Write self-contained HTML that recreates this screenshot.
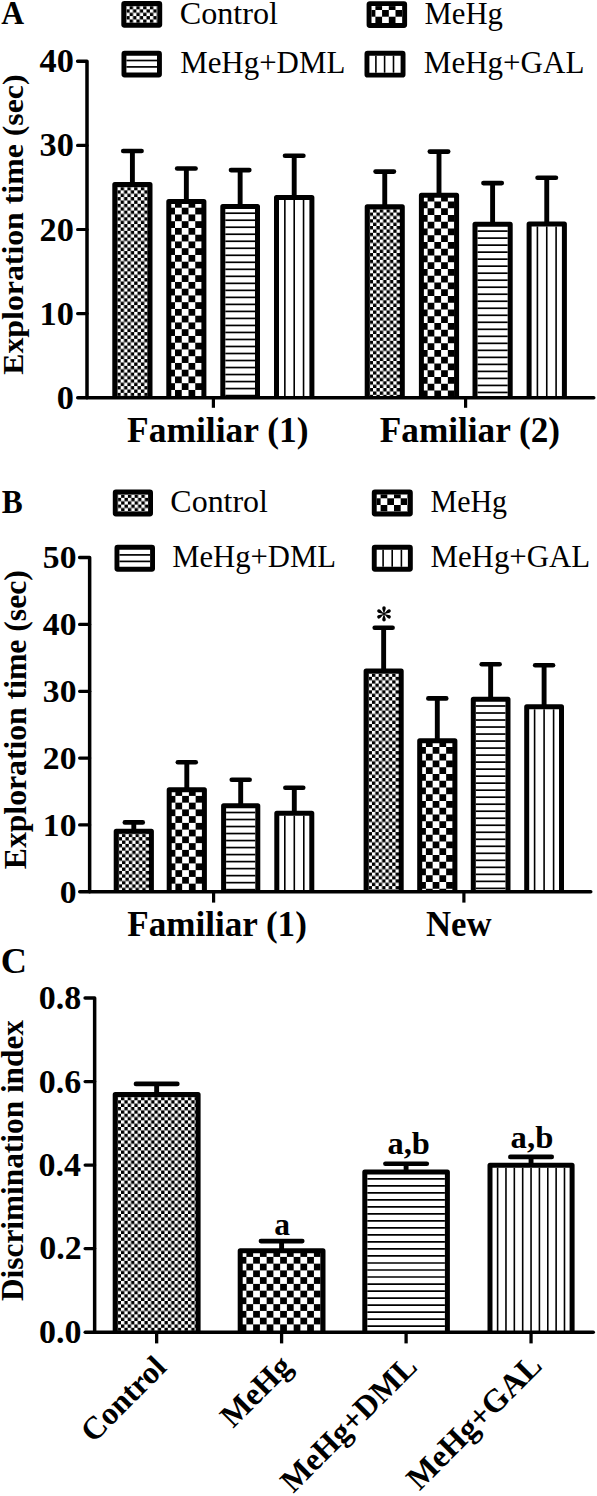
<!DOCTYPE html>
<html><head><meta charset="utf-8"><title>Figure</title>
<style>
html,body{margin:0;padding:0;background:#fff;}
body{width:597px;height:1496px;overflow:hidden;position:relative;}
svg{position:absolute;left:0;top:0;display:block;font-family:"Liberation Serif", serif;}
</style></head><body>
<svg width="597" height="1496" viewBox="0 0 597 1496">
<defs><pattern id="p1" patternUnits="userSpaceOnUse" x="122.90" y="2.60" width="6.750" height="6.750"><rect width="6.750" height="6.750" fill="#fff"/><rect x="3.375" y="0" width="3.375" height="3.375" fill="#000"/><rect x="0" y="3.375" width="3.375" height="3.375" fill="#000"/></pattern>
<pattern id="p2" patternUnits="userSpaceOnUse" x="368.70" y="3.30" width="13.400" height="13.400"><rect width="13.400" height="13.400" fill="#fff"/><rect x="6.700" y="0" width="6.700" height="6.700" fill="#000"/><rect x="0" y="6.700" width="6.700" height="6.700" fill="#000"/></pattern>
<pattern id="p3" patternUnits="userSpaceOnUse" x="113.90" y="183.60" width="6.750" height="6.750"><rect width="6.750" height="6.750" fill="#fff"/><rect x="3.375" y="0" width="3.375" height="3.375" fill="#000"/><rect x="0" y="3.375" width="3.375" height="3.375" fill="#000"/></pattern>
<pattern id="p4" patternUnits="userSpaceOnUse" x="168.25" y="200.95" width="13.500" height="13.500"><rect width="13.500" height="13.500" fill="#fff"/><rect x="6.750" y="0" width="6.750" height="6.750" fill="#000"/><rect x="0" y="6.750" width="6.750" height="6.750" fill="#000"/></pattern>
<pattern id="p5" patternUnits="userSpaceOnUse" x="366.30" y="205.80" width="6.750" height="6.750"><rect width="6.750" height="6.750" fill="#fff"/><rect x="3.375" y="0" width="3.375" height="3.375" fill="#000"/><rect x="0" y="3.375" width="3.375" height="3.375" fill="#000"/></pattern>
<pattern id="p6" patternUnits="userSpaceOnUse" x="420.85" y="194.75" width="13.500" height="13.500"><rect width="13.500" height="13.500" fill="#fff"/><rect x="6.750" y="0" width="6.750" height="6.750" fill="#000"/><rect x="0" y="6.750" width="6.750" height="6.750" fill="#000"/></pattern>
<pattern id="p7" patternUnits="userSpaceOnUse" x="114.40" y="491.10" width="6.750" height="6.750"><rect width="6.750" height="6.750" fill="#fff"/><rect x="3.375" y="0" width="3.375" height="3.375" fill="#000"/><rect x="0" y="3.375" width="3.375" height="3.375" fill="#000"/></pattern>
<pattern id="p8" patternUnits="userSpaceOnUse" x="373.90" y="491.60" width="13.400" height="13.400"><rect width="13.400" height="13.400" fill="#fff"/><rect x="6.700" y="0" width="6.700" height="6.700" fill="#000"/><rect x="0" y="6.700" width="6.700" height="6.700" fill="#000"/></pattern>
<pattern id="p9" patternUnits="userSpaceOnUse" x="115.30" y="830.40" width="6.750" height="6.750"><rect width="6.750" height="6.750" fill="#fff"/><rect x="3.375" y="0" width="3.375" height="3.375" fill="#000"/><rect x="0" y="3.375" width="3.375" height="3.375" fill="#000"/></pattern>
<pattern id="p10" patternUnits="userSpaceOnUse" x="168.65" y="789.15" width="13.500" height="13.500"><rect width="13.500" height="13.500" fill="#fff"/><rect x="6.750" y="0" width="6.750" height="6.750" fill="#000"/><rect x="0" y="6.750" width="6.750" height="6.750" fill="#000"/></pattern>
<pattern id="p11" patternUnits="userSpaceOnUse" x="365.20" y="670.10" width="6.750" height="6.750"><rect width="6.750" height="6.750" fill="#fff"/><rect x="3.375" y="0" width="3.375" height="3.375" fill="#000"/><rect x="0" y="3.375" width="3.375" height="3.375" fill="#000"/></pattern>
<pattern id="p12" patternUnits="userSpaceOnUse" x="419.15" y="740.25" width="13.500" height="13.500"><rect width="13.500" height="13.500" fill="#fff"/><rect x="6.750" y="0" width="6.750" height="6.750" fill="#000"/><rect x="0" y="6.750" width="6.750" height="6.750" fill="#000"/></pattern>
<pattern id="p13" patternUnits="userSpaceOnUse" x="114.30" y="1093.60" width="6.690" height="6.690"><rect width="6.690" height="6.690" fill="#fff"/><rect x="3.345" y="0" width="3.345" height="3.345" fill="#000"/><rect x="0" y="3.345" width="3.345" height="3.345" fill="#000"/></pattern>
<pattern id="p14" patternUnits="userSpaceOnUse" x="239.65" y="1250.15" width="13.500" height="13.500"><rect width="13.500" height="13.500" fill="#fff"/><rect x="6.750" y="0" width="6.750" height="6.750" fill="#000"/><rect x="0" y="6.750" width="6.750" height="6.750" fill="#000"/></pattern></defs>
<rect x="126.20" y="5.90" width="31.10" height="16.90" fill="url(#p1)"/><rect x="123.75" y="3.45" width="36.00" height="21.80" rx="0.7" fill="none" stroke="#000" stroke-width="4.9"/>
<rect x="371.50" y="6.10" width="30.70" height="16.90" fill="url(#p2)"/><rect x="369.05" y="3.65" width="35.60" height="21.80" rx="0.7" fill="none" stroke="#000" stroke-width="4.9"/>
<line x1="126.40" x2="157.00" y1="60.50" y2="60.50" stroke="#000" stroke-width="1.7"/><line x1="126.40" x2="157.00" y1="66.90" y2="66.90" stroke="#000" stroke-width="1.7"/><rect x="123.95" y="53.25" width="35.50" height="21.80" rx="0.7" fill="none" stroke="#000" stroke-width="4.9"/>
<line x1="375.90" x2="375.90" y1="55.70" y2="72.70" stroke="#000" stroke-width="1.6"/><line x1="384.60" x2="384.60" y1="55.70" y2="72.70" stroke="#000" stroke-width="1.6"/><line x1="393.50" x2="393.50" y1="55.70" y2="72.70" stroke="#000" stroke-width="1.6"/><rect x="366.95" y="53.25" width="36.10" height="21.90" rx="0.7" fill="none" stroke="#000" stroke-width="4.9"/>
<rect x="114.80" y="184.50" width="35.20" height="213.20" fill="url(#p3)"/><path d="M114.80,397.70 L114.80,184.50 L150.00,184.50 L150.00,397.70" fill="none" stroke="#000" stroke-width="5.0" stroke-linejoin="round"/><line x1="132.40" y1="184.50" x2="132.40" y2="151.00" stroke="#000" stroke-width="4.9"/><line x1="123.20" y1="151.00" x2="141.60" y2="151.00" stroke="#000" stroke-width="4.6" stroke-linecap="round"/>
<rect x="168.80" y="201.50" width="35.10" height="196.20" fill="url(#p4)"/><path d="M168.80,397.70 L168.80,201.50 L203.90,201.50 L203.90,397.70" fill="none" stroke="#000" stroke-width="5.0" stroke-linejoin="round"/><line x1="186.35" y1="201.50" x2="186.35" y2="168.50" stroke="#000" stroke-width="4.9"/><line x1="177.15" y1="168.50" x2="195.55" y2="168.50" stroke="#000" stroke-width="4.6" stroke-linecap="round"/>
<line x1="225.30" x2="255.00" y1="213.20" y2="213.20" stroke="#000" stroke-width="1.7"/><line x1="225.30" x2="255.00" y1="220.22" y2="220.22" stroke="#000" stroke-width="1.7"/><line x1="225.30" x2="255.00" y1="227.23" y2="227.23" stroke="#000" stroke-width="1.7"/><line x1="225.30" x2="255.00" y1="234.24" y2="234.24" stroke="#000" stroke-width="1.7"/><line x1="225.30" x2="255.00" y1="241.26" y2="241.26" stroke="#000" stroke-width="1.7"/><line x1="225.30" x2="255.00" y1="248.27" y2="248.27" stroke="#000" stroke-width="1.7"/><line x1="225.30" x2="255.00" y1="255.29" y2="255.29" stroke="#000" stroke-width="1.7"/><line x1="225.30" x2="255.00" y1="262.30" y2="262.30" stroke="#000" stroke-width="1.7"/><line x1="225.30" x2="255.00" y1="269.32" y2="269.32" stroke="#000" stroke-width="1.7"/><line x1="225.30" x2="255.00" y1="276.33" y2="276.33" stroke="#000" stroke-width="1.7"/><line x1="225.30" x2="255.00" y1="283.35" y2="283.35" stroke="#000" stroke-width="1.7"/><line x1="225.30" x2="255.00" y1="290.36" y2="290.36" stroke="#000" stroke-width="1.7"/><line x1="225.30" x2="255.00" y1="297.38" y2="297.38" stroke="#000" stroke-width="1.7"/><line x1="225.30" x2="255.00" y1="304.39" y2="304.39" stroke="#000" stroke-width="1.7"/><line x1="225.30" x2="255.00" y1="311.41" y2="311.41" stroke="#000" stroke-width="1.7"/><line x1="225.30" x2="255.00" y1="318.42" y2="318.42" stroke="#000" stroke-width="1.7"/><line x1="225.30" x2="255.00" y1="325.44" y2="325.44" stroke="#000" stroke-width="1.7"/><line x1="225.30" x2="255.00" y1="332.45" y2="332.45" stroke="#000" stroke-width="1.7"/><line x1="225.30" x2="255.00" y1="339.47" y2="339.47" stroke="#000" stroke-width="1.7"/><line x1="225.30" x2="255.00" y1="346.48" y2="346.48" stroke="#000" stroke-width="1.7"/><line x1="225.30" x2="255.00" y1="353.50" y2="353.50" stroke="#000" stroke-width="1.7"/><line x1="225.30" x2="255.00" y1="360.51" y2="360.51" stroke="#000" stroke-width="1.7"/><line x1="225.30" x2="255.00" y1="367.53" y2="367.53" stroke="#000" stroke-width="1.7"/><line x1="225.30" x2="255.00" y1="374.54" y2="374.54" stroke="#000" stroke-width="1.7"/><line x1="225.30" x2="255.00" y1="381.56" y2="381.56" stroke="#000" stroke-width="1.7"/><line x1="225.30" x2="255.00" y1="388.57" y2="388.57" stroke="#000" stroke-width="1.7"/><line x1="225.30" x2="255.00" y1="395.59" y2="395.59" stroke="#000" stroke-width="1.7"/><path d="M222.80,397.70 L222.80,206.40 L257.50,206.40 L257.50,397.70" fill="none" stroke="#000" stroke-width="5.0" stroke-linejoin="round"/><line x1="240.15" y1="206.40" x2="240.15" y2="170.10" stroke="#000" stroke-width="4.9"/><line x1="230.95" y1="170.10" x2="249.35" y2="170.10" stroke="#000" stroke-width="4.6" stroke-linecap="round"/>
<line x1="294.20" x2="294.20" y1="200.00" y2="397.70" stroke="#000" stroke-width="1.6"/><line x1="303.55" x2="303.55" y1="200.00" y2="397.70" stroke="#000" stroke-width="1.6"/><line x1="284.85" x2="284.85" y1="200.00" y2="397.70" stroke="#000" stroke-width="1.6"/><path d="M276.50,397.70 L276.50,197.50 L311.90,197.50 L311.90,397.70" fill="none" stroke="#000" stroke-width="5.0" stroke-linejoin="round"/><line x1="294.20" y1="197.50" x2="294.20" y2="155.80" stroke="#000" stroke-width="4.9"/><line x1="285.00" y1="155.80" x2="303.40" y2="155.80" stroke="#000" stroke-width="4.6" stroke-linecap="round"/>
<rect x="367.20" y="206.70" width="35.10" height="191.00" fill="url(#p5)"/><path d="M367.20,397.70 L367.20,206.70 L402.30,206.70 L402.30,397.70" fill="none" stroke="#000" stroke-width="5.0" stroke-linejoin="round"/><line x1="384.75" y1="206.70" x2="384.75" y2="171.60" stroke="#000" stroke-width="4.9"/><line x1="375.55" y1="171.60" x2="393.95" y2="171.60" stroke="#000" stroke-width="4.6" stroke-linecap="round"/>
<rect x="421.40" y="195.30" width="35.20" height="202.40" fill="url(#p6)"/><path d="M421.40,397.70 L421.40,195.30 L456.60,195.30 L456.60,397.70" fill="none" stroke="#000" stroke-width="5.0" stroke-linejoin="round"/><line x1="439.00" y1="195.30" x2="439.00" y2="151.60" stroke="#000" stroke-width="4.9"/><line x1="429.80" y1="151.60" x2="448.20" y2="151.60" stroke="#000" stroke-width="4.6" stroke-linecap="round"/>
<line x1="477.50" x2="507.70" y1="231.10" y2="231.10" stroke="#000" stroke-width="1.7"/><line x1="477.50" x2="507.70" y1="238.12" y2="238.12" stroke="#000" stroke-width="1.7"/><line x1="477.50" x2="507.70" y1="245.13" y2="245.13" stroke="#000" stroke-width="1.7"/><line x1="477.50" x2="507.70" y1="252.14" y2="252.14" stroke="#000" stroke-width="1.7"/><line x1="477.50" x2="507.70" y1="259.16" y2="259.16" stroke="#000" stroke-width="1.7"/><line x1="477.50" x2="507.70" y1="266.17" y2="266.17" stroke="#000" stroke-width="1.7"/><line x1="477.50" x2="507.70" y1="273.19" y2="273.19" stroke="#000" stroke-width="1.7"/><line x1="477.50" x2="507.70" y1="280.20" y2="280.20" stroke="#000" stroke-width="1.7"/><line x1="477.50" x2="507.70" y1="287.22" y2="287.22" stroke="#000" stroke-width="1.7"/><line x1="477.50" x2="507.70" y1="294.23" y2="294.23" stroke="#000" stroke-width="1.7"/><line x1="477.50" x2="507.70" y1="301.25" y2="301.25" stroke="#000" stroke-width="1.7"/><line x1="477.50" x2="507.70" y1="308.26" y2="308.26" stroke="#000" stroke-width="1.7"/><line x1="477.50" x2="507.70" y1="315.28" y2="315.28" stroke="#000" stroke-width="1.7"/><line x1="477.50" x2="507.70" y1="322.29" y2="322.29" stroke="#000" stroke-width="1.7"/><line x1="477.50" x2="507.70" y1="329.31" y2="329.31" stroke="#000" stroke-width="1.7"/><line x1="477.50" x2="507.70" y1="336.32" y2="336.32" stroke="#000" stroke-width="1.7"/><line x1="477.50" x2="507.70" y1="343.34" y2="343.34" stroke="#000" stroke-width="1.7"/><line x1="477.50" x2="507.70" y1="350.35" y2="350.35" stroke="#000" stroke-width="1.7"/><line x1="477.50" x2="507.70" y1="357.37" y2="357.37" stroke="#000" stroke-width="1.7"/><line x1="477.50" x2="507.70" y1="364.38" y2="364.38" stroke="#000" stroke-width="1.7"/><line x1="477.50" x2="507.70" y1="371.40" y2="371.40" stroke="#000" stroke-width="1.7"/><line x1="477.50" x2="507.70" y1="378.41" y2="378.41" stroke="#000" stroke-width="1.7"/><line x1="477.50" x2="507.70" y1="385.43" y2="385.43" stroke="#000" stroke-width="1.7"/><line x1="477.50" x2="507.70" y1="392.44" y2="392.44" stroke="#000" stroke-width="1.7"/><path d="M475.00,397.70 L475.00,224.30 L510.20,224.30 L510.20,397.70" fill="none" stroke="#000" stroke-width="5.0" stroke-linejoin="round"/><line x1="492.60" y1="224.30" x2="492.60" y2="183.10" stroke="#000" stroke-width="4.9"/><line x1="483.40" y1="183.10" x2="501.80" y2="183.10" stroke="#000" stroke-width="4.6" stroke-linecap="round"/>
<line x1="546.75" x2="546.75" y1="226.40" y2="397.70" stroke="#000" stroke-width="1.6"/><line x1="556.10" x2="556.10" y1="226.40" y2="397.70" stroke="#000" stroke-width="1.6"/><line x1="537.40" x2="537.40" y1="226.40" y2="397.70" stroke="#000" stroke-width="1.6"/><path d="M529.10,397.70 L529.10,223.90 L564.40,223.90 L564.40,397.70" fill="none" stroke="#000" stroke-width="5.0" stroke-linejoin="round"/><line x1="546.75" y1="223.90" x2="546.75" y2="177.80" stroke="#000" stroke-width="4.9"/><line x1="537.55" y1="177.80" x2="555.95" y2="177.80" stroke="#000" stroke-width="4.6" stroke-linecap="round"/>
<path d="M77.60,61.30 L87.00,61.30 L87.00,397.70" fill="none" stroke="#000" stroke-width="3.5" stroke-linejoin="round" stroke-linecap="round"/><line x1="77.60" y1="145.40" x2="87.00" y2="145.40" stroke="#000" stroke-width="3.2" stroke-linecap="round"/><line x1="77.60" y1="229.50" x2="87.00" y2="229.50" stroke="#000" stroke-width="3.2" stroke-linecap="round"/><line x1="77.60" y1="313.60" x2="87.00" y2="313.60" stroke="#000" stroke-width="3.2" stroke-linecap="round"/><line x1="77.75" y1="397.70" x2="593.75" y2="397.70" stroke="#000" stroke-width="3.5" stroke-linecap="round"/><line x1="213.40" y1="397.70" x2="213.40" y2="407.80" stroke="#000" stroke-width="3.2"/><line x1="465.60" y1="397.70" x2="465.60" y2="407.80" stroke="#000" stroke-width="3.2"/>
<rect x="117.70" y="494.40" width="30.40" height="17.10" fill="url(#p7)"/><rect x="115.25" y="491.95" width="35.30" height="22.00" rx="0.7" fill="none" stroke="#000" stroke-width="4.9"/>
<rect x="376.70" y="494.40" width="31.20" height="17.10" fill="url(#p8)"/><rect x="374.25" y="491.95" width="36.10" height="22.00" rx="0.7" fill="none" stroke="#000" stroke-width="4.9"/>
<line x1="119.40" x2="150.10" y1="554.90" y2="554.90" stroke="#000" stroke-width="1.7"/><line x1="119.40" x2="150.10" y1="561.40" y2="561.40" stroke="#000" stroke-width="1.7"/><rect x="116.95" y="547.25" width="35.60" height="22.00" rx="0.7" fill="none" stroke="#000" stroke-width="4.9"/>
<line x1="383.10" x2="383.10" y1="549.70" y2="566.80" stroke="#000" stroke-width="1.6"/><line x1="392.20" x2="392.20" y1="549.70" y2="566.80" stroke="#000" stroke-width="1.6"/><line x1="401.40" x2="401.40" y1="549.70" y2="566.80" stroke="#000" stroke-width="1.6"/><rect x="374.25" y="547.25" width="36.10" height="22.00" rx="0.7" fill="none" stroke="#000" stroke-width="4.9"/>
<rect x="116.20" y="831.30" width="35.20" height="60.50" fill="url(#p9)"/><path d="M116.20,891.80 L116.20,831.30 L151.40,831.30 L151.40,891.80" fill="none" stroke="#000" stroke-width="5.0" stroke-linejoin="round"/><line x1="133.80" y1="831.30" x2="133.80" y2="822.40" stroke="#000" stroke-width="4.9"/><line x1="124.85" y1="822.40" x2="142.75" y2="822.40" stroke="#000" stroke-width="4.6" stroke-linecap="round"/>
<rect x="169.20" y="789.70" width="35.20" height="102.10" fill="url(#p10)"/><path d="M169.20,891.80 L169.20,789.70 L204.40,789.70 L204.40,891.80" fill="none" stroke="#000" stroke-width="5.0" stroke-linejoin="round"/><line x1="186.80" y1="789.70" x2="186.80" y2="762.20" stroke="#000" stroke-width="4.9"/><line x1="177.85" y1="762.20" x2="195.75" y2="762.20" stroke="#000" stroke-width="4.6" stroke-linecap="round"/>
<line x1="226.10" x2="255.30" y1="812.50" y2="812.50" stroke="#000" stroke-width="1.7"/><line x1="226.10" x2="255.30" y1="819.51" y2="819.51" stroke="#000" stroke-width="1.7"/><line x1="226.10" x2="255.30" y1="826.53" y2="826.53" stroke="#000" stroke-width="1.7"/><line x1="226.10" x2="255.30" y1="833.54" y2="833.54" stroke="#000" stroke-width="1.7"/><line x1="226.10" x2="255.30" y1="840.56" y2="840.56" stroke="#000" stroke-width="1.7"/><line x1="226.10" x2="255.30" y1="847.57" y2="847.57" stroke="#000" stroke-width="1.7"/><line x1="226.10" x2="255.30" y1="854.59" y2="854.59" stroke="#000" stroke-width="1.7"/><line x1="226.10" x2="255.30" y1="861.60" y2="861.60" stroke="#000" stroke-width="1.7"/><line x1="226.10" x2="255.30" y1="868.62" y2="868.62" stroke="#000" stroke-width="1.7"/><line x1="226.10" x2="255.30" y1="875.63" y2="875.63" stroke="#000" stroke-width="1.7"/><line x1="226.10" x2="255.30" y1="882.65" y2="882.65" stroke="#000" stroke-width="1.7"/><line x1="226.10" x2="255.30" y1="889.66" y2="889.66" stroke="#000" stroke-width="1.7"/><path d="M223.60,891.80 L223.60,805.70 L257.80,805.70 L257.80,891.80" fill="none" stroke="#000" stroke-width="5.0" stroke-linejoin="round"/><line x1="240.70" y1="805.70" x2="240.70" y2="779.80" stroke="#000" stroke-width="4.9"/><line x1="231.75" y1="779.80" x2="249.65" y2="779.80" stroke="#000" stroke-width="4.6" stroke-linecap="round"/>
<line x1="294.30" x2="294.30" y1="815.70" y2="891.80" stroke="#000" stroke-width="1.6"/><line x1="303.80" x2="303.80" y1="815.70" y2="891.80" stroke="#000" stroke-width="1.6"/><line x1="284.80" x2="284.80" y1="815.70" y2="891.80" stroke="#000" stroke-width="1.6"/><path d="M276.80,891.80 L276.80,813.20 L311.80,813.20 L311.80,891.80" fill="none" stroke="#000" stroke-width="5.0" stroke-linejoin="round"/><line x1="294.30" y1="813.20" x2="294.30" y2="787.80" stroke="#000" stroke-width="4.9"/><line x1="285.35" y1="787.80" x2="303.25" y2="787.80" stroke="#000" stroke-width="4.6" stroke-linecap="round"/>
<rect x="366.10" y="671.00" width="35.10" height="220.80" fill="url(#p11)"/><path d="M366.10,891.80 L366.10,671.00 L401.20,671.00 L401.20,891.80" fill="none" stroke="#000" stroke-width="5.0" stroke-linejoin="round"/><line x1="383.65" y1="671.00" x2="383.65" y2="627.80" stroke="#000" stroke-width="4.9"/><line x1="374.70" y1="627.80" x2="392.60" y2="627.80" stroke="#000" stroke-width="4.6" stroke-linecap="round"/>
<rect x="419.70" y="740.80" width="35.20" height="151.00" fill="url(#p12)"/><path d="M419.70,891.80 L419.70,740.80 L454.90,740.80 L454.90,891.80" fill="none" stroke="#000" stroke-width="5.0" stroke-linejoin="round"/><line x1="437.30" y1="740.80" x2="437.30" y2="698.40" stroke="#000" stroke-width="4.9"/><line x1="428.35" y1="698.40" x2="446.25" y2="698.40" stroke="#000" stroke-width="4.6" stroke-linecap="round"/>
<line x1="475.80" x2="505.50" y1="706.00" y2="706.00" stroke="#000" stroke-width="1.7"/><line x1="475.80" x2="505.50" y1="713.01" y2="713.01" stroke="#000" stroke-width="1.7"/><line x1="475.80" x2="505.50" y1="720.03" y2="720.03" stroke="#000" stroke-width="1.7"/><line x1="475.80" x2="505.50" y1="727.04" y2="727.04" stroke="#000" stroke-width="1.7"/><line x1="475.80" x2="505.50" y1="734.06" y2="734.06" stroke="#000" stroke-width="1.7"/><line x1="475.80" x2="505.50" y1="741.07" y2="741.07" stroke="#000" stroke-width="1.7"/><line x1="475.80" x2="505.50" y1="748.09" y2="748.09" stroke="#000" stroke-width="1.7"/><line x1="475.80" x2="505.50" y1="755.10" y2="755.10" stroke="#000" stroke-width="1.7"/><line x1="475.80" x2="505.50" y1="762.12" y2="762.12" stroke="#000" stroke-width="1.7"/><line x1="475.80" x2="505.50" y1="769.13" y2="769.13" stroke="#000" stroke-width="1.7"/><line x1="475.80" x2="505.50" y1="776.15" y2="776.15" stroke="#000" stroke-width="1.7"/><line x1="475.80" x2="505.50" y1="783.16" y2="783.16" stroke="#000" stroke-width="1.7"/><line x1="475.80" x2="505.50" y1="790.18" y2="790.18" stroke="#000" stroke-width="1.7"/><line x1="475.80" x2="505.50" y1="797.19" y2="797.19" stroke="#000" stroke-width="1.7"/><line x1="475.80" x2="505.50" y1="804.21" y2="804.21" stroke="#000" stroke-width="1.7"/><line x1="475.80" x2="505.50" y1="811.22" y2="811.22" stroke="#000" stroke-width="1.7"/><line x1="475.80" x2="505.50" y1="818.24" y2="818.24" stroke="#000" stroke-width="1.7"/><line x1="475.80" x2="505.50" y1="825.25" y2="825.25" stroke="#000" stroke-width="1.7"/><line x1="475.80" x2="505.50" y1="832.27" y2="832.27" stroke="#000" stroke-width="1.7"/><line x1="475.80" x2="505.50" y1="839.28" y2="839.28" stroke="#000" stroke-width="1.7"/><line x1="475.80" x2="505.50" y1="846.30" y2="846.30" stroke="#000" stroke-width="1.7"/><line x1="475.80" x2="505.50" y1="853.31" y2="853.31" stroke="#000" stroke-width="1.7"/><line x1="475.80" x2="505.50" y1="860.33" y2="860.33" stroke="#000" stroke-width="1.7"/><line x1="475.80" x2="505.50" y1="867.34" y2="867.34" stroke="#000" stroke-width="1.7"/><line x1="475.80" x2="505.50" y1="874.36" y2="874.36" stroke="#000" stroke-width="1.7"/><line x1="475.80" x2="505.50" y1="881.37" y2="881.37" stroke="#000" stroke-width="1.7"/><line x1="475.80" x2="505.50" y1="888.39" y2="888.39" stroke="#000" stroke-width="1.7"/><path d="M473.30,891.80 L473.30,699.20 L508.00,699.20 L508.00,891.80" fill="none" stroke="#000" stroke-width="5.0" stroke-linejoin="round"/><line x1="490.65" y1="699.20" x2="490.65" y2="664.30" stroke="#000" stroke-width="4.9"/><line x1="481.70" y1="664.30" x2="499.60" y2="664.30" stroke="#000" stroke-width="4.6" stroke-linecap="round"/>
<line x1="544.10" x2="544.10" y1="709.30" y2="891.80" stroke="#000" stroke-width="1.6"/><line x1="553.60" x2="553.60" y1="709.30" y2="891.80" stroke="#000" stroke-width="1.6"/><line x1="534.60" x2="534.60" y1="709.30" y2="891.80" stroke="#000" stroke-width="1.6"/><path d="M526.70,891.80 L526.70,706.80 L561.50,706.80 L561.50,891.80" fill="none" stroke="#000" stroke-width="5.0" stroke-linejoin="round"/><line x1="544.10" y1="706.80" x2="544.10" y2="665.20" stroke="#000" stroke-width="4.9"/><line x1="535.15" y1="665.20" x2="553.05" y2="665.20" stroke="#000" stroke-width="4.6" stroke-linecap="round"/>
<path d="M79.60,557.60 L89.65,557.60 L89.65,891.80" fill="none" stroke="#000" stroke-width="3.5" stroke-linejoin="round" stroke-linecap="round"/><line x1="79.60" y1="624.44" x2="89.65" y2="624.44" stroke="#000" stroke-width="3.2" stroke-linecap="round"/><line x1="79.60" y1="691.28" x2="89.65" y2="691.28" stroke="#000" stroke-width="3.2" stroke-linecap="round"/><line x1="79.60" y1="758.12" x2="89.65" y2="758.12" stroke="#000" stroke-width="3.2" stroke-linecap="round"/><line x1="79.60" y1="824.96" x2="89.65" y2="824.96" stroke="#000" stroke-width="3.2" stroke-linecap="round"/><line x1="79.75" y1="891.80" x2="590.75" y2="891.80" stroke="#000" stroke-width="3.5" stroke-linecap="round"/><line x1="213.60" y1="891.80" x2="213.60" y2="902.60" stroke="#000" stroke-width="3.2"/><line x1="463.90" y1="891.80" x2="463.90" y2="902.60" stroke="#000" stroke-width="3.2"/>
<g transform="translate(384.0,613.9)"><path d="M-0.4,-0.7 C-0.7,-2.6 -1.75,-4.2 -1.75,-5.85 A1.75,1.75 0 0 1 1.75,-5.85 C1.75,-4.2 0.7,-2.6 0.4,-0.7 Z" transform="rotate(0)" fill="#000"/><path d="M-0.4,-0.7 C-0.7,-2.6 -1.75,-4.2 -1.75,-5.85 A1.75,1.75 0 0 1 1.75,-5.85 C1.75,-4.2 0.7,-2.6 0.4,-0.7 Z" transform="rotate(60)" fill="#000"/><path d="M-0.4,-0.7 C-0.7,-2.6 -1.75,-4.2 -1.75,-5.85 A1.75,1.75 0 0 1 1.75,-5.85 C1.75,-4.2 0.7,-2.6 0.4,-0.7 Z" transform="rotate(120)" fill="#000"/><path d="M-0.4,-0.7 C-0.7,-2.6 -1.75,-4.2 -1.75,-5.85 A1.75,1.75 0 0 1 1.75,-5.85 C1.75,-4.2 0.7,-2.6 0.4,-0.7 Z" transform="rotate(180)" fill="#000"/><path d="M-0.4,-0.7 C-0.7,-2.6 -1.75,-4.2 -1.75,-5.85 A1.75,1.75 0 0 1 1.75,-5.85 C1.75,-4.2 0.7,-2.6 0.4,-0.7 Z" transform="rotate(240)" fill="#000"/><path d="M-0.4,-0.7 C-0.7,-2.6 -1.75,-4.2 -1.75,-5.85 A1.75,1.75 0 0 1 1.75,-5.85 C1.75,-4.2 0.7,-2.6 0.4,-0.7 Z" transform="rotate(300)" fill="#000"/><circle r="1.05" fill="#000"/></g>
<rect x="115.20" y="1094.50" width="82.90" height="237.80" fill="url(#p13)"/><path d="M115.20,1332.30 L115.20,1094.50 L198.10,1094.50 L198.10,1332.30" fill="none" stroke="#000" stroke-width="5.0" stroke-linejoin="round"/><line x1="156.65" y1="1094.50" x2="156.65" y2="1083.90" stroke="#000" stroke-width="4.9"/><line x1="135.95" y1="1083.90" x2="177.35" y2="1083.90" stroke="#000" stroke-width="4.6" stroke-linecap="round"/>
<line x1="156.65" y1="1332.30" x2="156.65" y2="1343.40" stroke="#000" stroke-width="3.3" stroke-linecap="butt"/>
<rect x="240.20" y="1250.70" width="82.80" height="81.60" fill="url(#p14)"/><path d="M240.20,1332.30 L240.20,1250.70 L323.00,1250.70 L323.00,1332.30" fill="none" stroke="#000" stroke-width="5.0" stroke-linejoin="round"/><line x1="281.60" y1="1250.70" x2="281.60" y2="1241.10" stroke="#000" stroke-width="4.9"/><line x1="260.90" y1="1241.10" x2="302.30" y2="1241.10" stroke="#000" stroke-width="4.6" stroke-linecap="round"/>
<line x1="281.60" y1="1332.30" x2="281.60" y2="1343.40" stroke="#000" stroke-width="3.3" stroke-linecap="butt"/>
<line x1="367.30" x2="444.90" y1="1178.80" y2="1178.80" stroke="#000" stroke-width="1.7"/><line x1="367.30" x2="444.90" y1="1185.82" y2="1185.82" stroke="#000" stroke-width="1.7"/><line x1="367.30" x2="444.90" y1="1192.83" y2="1192.83" stroke="#000" stroke-width="1.7"/><line x1="367.30" x2="444.90" y1="1199.85" y2="1199.85" stroke="#000" stroke-width="1.7"/><line x1="367.30" x2="444.90" y1="1206.86" y2="1206.86" stroke="#000" stroke-width="1.7"/><line x1="367.30" x2="444.90" y1="1213.88" y2="1213.88" stroke="#000" stroke-width="1.7"/><line x1="367.30" x2="444.90" y1="1220.89" y2="1220.89" stroke="#000" stroke-width="1.7"/><line x1="367.30" x2="444.90" y1="1227.91" y2="1227.91" stroke="#000" stroke-width="1.7"/><line x1="367.30" x2="444.90" y1="1234.92" y2="1234.92" stroke="#000" stroke-width="1.7"/><line x1="367.30" x2="444.90" y1="1241.94" y2="1241.94" stroke="#000" stroke-width="1.7"/><line x1="367.30" x2="444.90" y1="1248.95" y2="1248.95" stroke="#000" stroke-width="1.7"/><line x1="367.30" x2="444.90" y1="1255.97" y2="1255.97" stroke="#000" stroke-width="1.7"/><line x1="367.30" x2="444.90" y1="1262.98" y2="1262.98" stroke="#000" stroke-width="1.7"/><line x1="367.30" x2="444.90" y1="1270.00" y2="1270.00" stroke="#000" stroke-width="1.7"/><line x1="367.30" x2="444.90" y1="1277.01" y2="1277.01" stroke="#000" stroke-width="1.7"/><line x1="367.30" x2="444.90" y1="1284.03" y2="1284.03" stroke="#000" stroke-width="1.7"/><line x1="367.30" x2="444.90" y1="1291.04" y2="1291.04" stroke="#000" stroke-width="1.7"/><line x1="367.30" x2="444.90" y1="1298.06" y2="1298.06" stroke="#000" stroke-width="1.7"/><line x1="367.30" x2="444.90" y1="1305.07" y2="1305.07" stroke="#000" stroke-width="1.7"/><line x1="367.30" x2="444.90" y1="1312.09" y2="1312.09" stroke="#000" stroke-width="1.7"/><line x1="367.30" x2="444.90" y1="1319.10" y2="1319.10" stroke="#000" stroke-width="1.7"/><line x1="367.30" x2="444.90" y1="1326.12" y2="1326.12" stroke="#000" stroke-width="1.7"/><path d="M364.80,1332.30 L364.80,1172.00 L447.40,1172.00 L447.40,1332.30" fill="none" stroke="#000" stroke-width="5.0" stroke-linejoin="round"/><line x1="406.10" y1="1172.00" x2="406.10" y2="1163.70" stroke="#000" stroke-width="4.9"/><line x1="385.40" y1="1163.70" x2="426.80" y2="1163.70" stroke="#000" stroke-width="4.6" stroke-linecap="round"/>
<line x1="406.10" y1="1332.30" x2="406.10" y2="1343.40" stroke="#000" stroke-width="3.3" stroke-linecap="butt"/>
<line x1="531.05" x2="531.05" y1="1167.70" y2="1332.30" stroke="#000" stroke-width="1.6"/><line x1="539.41" x2="539.41" y1="1167.70" y2="1332.30" stroke="#000" stroke-width="1.6"/><line x1="522.69" x2="522.69" y1="1167.70" y2="1332.30" stroke="#000" stroke-width="1.6"/><line x1="547.77" x2="547.77" y1="1167.70" y2="1332.30" stroke="#000" stroke-width="1.6"/><line x1="514.33" x2="514.33" y1="1167.70" y2="1332.30" stroke="#000" stroke-width="1.6"/><line x1="556.13" x2="556.13" y1="1167.70" y2="1332.30" stroke="#000" stroke-width="1.6"/><line x1="505.97" x2="505.97" y1="1167.70" y2="1332.30" stroke="#000" stroke-width="1.6"/><line x1="564.49" x2="564.49" y1="1167.70" y2="1332.30" stroke="#000" stroke-width="1.6"/><line x1="497.61" x2="497.61" y1="1167.70" y2="1332.30" stroke="#000" stroke-width="1.6"/><path d="M490.00,1332.30 L490.00,1165.20 L572.10,1165.20 L572.10,1332.30" fill="none" stroke="#000" stroke-width="5.0" stroke-linejoin="round"/><line x1="531.05" y1="1165.20" x2="531.05" y2="1156.90" stroke="#000" stroke-width="4.9"/><line x1="510.35" y1="1156.90" x2="551.75" y2="1156.90" stroke="#000" stroke-width="4.6" stroke-linecap="round"/>
<line x1="531.05" y1="1332.30" x2="531.05" y2="1343.40" stroke="#000" stroke-width="3.3" stroke-linecap="butt"/>
<path d="M85.10,998.00 L94.65,998.00 L94.65,1332.30" fill="none" stroke="#000" stroke-width="3.5" stroke-linejoin="round" stroke-linecap="round"/><line x1="85.10" y1="1081.53" x2="94.65" y2="1081.53" stroke="#000" stroke-width="3.2" stroke-linecap="round"/><line x1="85.10" y1="1165.06" x2="94.65" y2="1165.06" stroke="#000" stroke-width="3.2" stroke-linecap="round"/><line x1="85.10" y1="1248.59" x2="94.65" y2="1248.59" stroke="#000" stroke-width="3.2" stroke-linecap="round"/><line x1="85.25" y1="1332.30" x2="593.25" y2="1332.30" stroke="#000" stroke-width="3.5" stroke-linecap="round"/>
<text transform="translate(1.26,24.40) scale(0.9470,1)" font-size="33.40" font-weight="bold">A</text>
<text transform="translate(1.78,513.40) scale(0.9204,1)" font-size="34.11" font-weight="bold">B</text>
<text transform="translate(0.73,973.24) scale(1.0205,1)" font-size="35.56" font-weight="bold">C</text>
<text transform="translate(179.73,23.80) scale(0.9894,1)" font-size="32.50" font-weight="normal">Control</text>
<text transform="translate(424.45,23.60) scale(0.9449,1)" font-size="32.50" font-weight="normal">MeHg</text>
<text transform="translate(180.13,73.00) scale(0.9519,1)" font-size="32.50" font-weight="normal">MeHg+DML</text>
<text transform="translate(423.86,72.80) scale(0.9546,1)" font-size="32.50" font-weight="normal">MeHg+GAL</text>
<text transform="translate(170.34,511.80) scale(0.9836,1)" font-size="32.50" font-weight="normal">Control</text>
<text transform="translate(430.52,511.70) scale(0.9218,1)" font-size="32.50" font-weight="normal">MeHg</text>
<text transform="translate(172.14,567.00) scale(0.9444,1)" font-size="32.50" font-weight="normal">MeHg+DML</text>
<text transform="translate(430.46,566.80) scale(0.9503,1)" font-size="32.50" font-weight="normal">MeHg+GAL</text>
<text transform="translate(22.79,374.74) rotate(-90) scale(1.0501,1)" font-size="30.29" font-weight="bold">Exploration time (sec)</text>
<text transform="translate(26.49,869.23) rotate(-90) scale(1.0133,1)" font-size="31.27" font-weight="bold">Exploration time (sec)</text>
<text transform="translate(23.35,1301.03) rotate(-90) scale(1.0126,1)" font-size="30.94" font-weight="bold">Discrimination index</text>
<text transform="translate(127.12,441.90) scale(1.0034,1)" font-size="35.30" font-weight="bold">Familiar (1)</text>
<text transform="translate(379.79,441.90) scale(0.9976,1)" font-size="35.30" font-weight="bold">Familiar (2)</text>
<text transform="translate(127.23,935.60) scale(0.9944,1)" font-size="35.30" font-weight="bold">Familiar (1)</text>
<text transform="translate(426.01,936.20) scale(0.9847,1)" font-size="35.30" font-weight="bold">New</text>
<text transform="translate(274.26,1234.50) scale(0.9686,1)" font-size="32.56" font-weight="bold">a</text>
<text transform="translate(387.43,1154.45) scale(1.0240,1)" font-size="31.71" font-weight="bold">a,b</text>
<text transform="translate(510.62,1148.49) scale(1.0272,1)" font-size="31.82" font-weight="bold">a,b</text>
<text transform="translate(93.45,1443.63) rotate(-45)" font-size="31.87" font-weight="bold">Control</text>
<text transform="translate(232.97,1428.99) rotate(-45)" font-size="32.13" font-weight="bold">MeHg</text>
<text transform="translate(293.13,1494.11) rotate(-45)" font-size="31.92" font-weight="bold">MeHg+DML</text>
<text transform="translate(419.50,1491.42) rotate(-45)" font-size="32.48" font-weight="bold">MeHg+GAL</text>
<text transform="translate(73.80,72.31) scale(1.0400,1)" font-size="33.00" font-weight="bold" text-anchor="end">40</text>
<text transform="translate(73.80,156.45) scale(1.0400,1)" font-size="33.00" font-weight="bold" text-anchor="end">30</text>
<text transform="translate(73.80,240.79) scale(1.0400,1)" font-size="33.00" font-weight="bold" text-anchor="end">20</text>
<text transform="translate(73.80,324.88) scale(1.0400,1)" font-size="33.00" font-weight="bold" text-anchor="end">10</text>
<text transform="translate(73.80,409.48) scale(1.0400,1)" font-size="33.00" font-weight="bold" text-anchor="end">0</text>
<text transform="translate(76.43,567.97) scale(1.0400,1)" font-size="32.30" font-weight="bold" text-anchor="end">50</text>
<text transform="translate(76.43,634.90) scale(1.0400,1)" font-size="32.30" font-weight="bold" text-anchor="end">40</text>
<text transform="translate(76.43,701.82) scale(1.0400,1)" font-size="32.30" font-weight="bold" text-anchor="end">30</text>
<text transform="translate(76.43,768.75) scale(1.0400,1)" font-size="32.30" font-weight="bold" text-anchor="end">20</text>
<text transform="translate(76.43,835.67) scale(1.0400,1)" font-size="32.30" font-weight="bold" text-anchor="end">10</text>
<text transform="translate(76.43,902.60) scale(1.0400,1)" font-size="32.30" font-weight="bold" text-anchor="end">0</text>
<text transform="translate(81.33,1009.00) scale(1.0300,1)" font-size="33.00" font-weight="bold" text-anchor="end">0.8</text>
<text transform="translate(81.14,1092.74) scale(1.0300,1)" font-size="33.00" font-weight="bold" text-anchor="end">0.6</text>
<text transform="translate(80.89,1176.18) scale(1.0300,1)" font-size="33.00" font-weight="bold" text-anchor="end">0.4</text>
<text transform="translate(81.67,1259.32) scale(1.0300,1)" font-size="33.00" font-weight="bold" text-anchor="end">0.2</text>
<text transform="translate(81.53,1343.26) scale(1.0300,1)" font-size="33.00" font-weight="bold" text-anchor="end">0.0</text>
</svg>
</body></html>
